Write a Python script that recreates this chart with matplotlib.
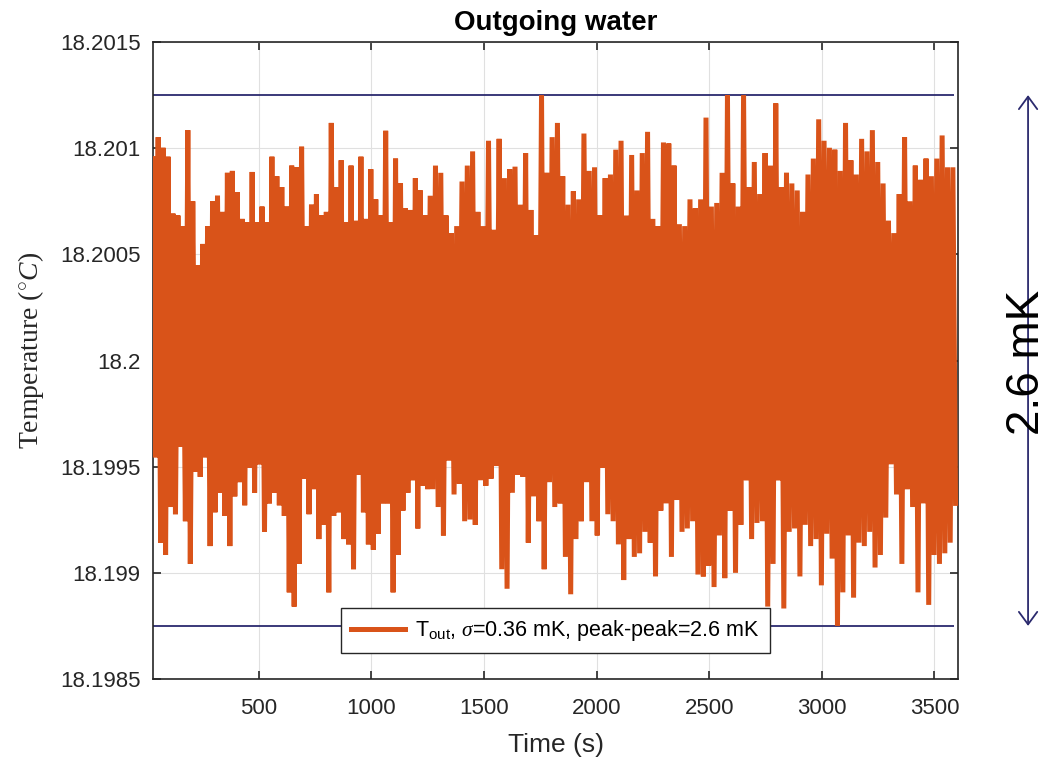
import numpy as np
import matplotlib
matplotlib.use("Agg")
import matplotlib.pyplot as plt

# ---------------- data ----------------
base_temp_C = 18.2
# Excursions in mK relative to 18.2 C, read left to right in three stretches of the record.
# stretch A: ~30 s .. ~1250 s
upper_a = [
    0.951, 1.052, 1.002, 0.960, 0.692, 0.683, 0.633, 1.085, 0.750,
    0.449, 0.549, 0.633, 0.750, 0.776, 0.700, 0.884, 0.893, 0.792, 0.667,
    0.650, 0.888, 0.650, 0.725, 0.650, 0.960, 0.868, 0.817, 0.725, 0.918,
    0.910, 1.007, 0.633, 0.734, 0.784, 0.683, 0.700, 1.119, 0.817,
    0.943, 0.650, 0.918, 0.658, 0.960, 0.667, 0.901, 0.759, 0.683, 1.082,
    0.650, 0.951, 0.834, 0.717, 0.709, 0.859, 0.801, 0.683,
]
lower_a = [
    -0.456, -0.858, -0.916, -0.690, -0.724, -0.405, -0.757, -0.958, -0.523, -0.548,
    -0.456, -0.874, -0.715, -0.623, -0.732, -0.874, -0.640, -0.573, -0.682, -0.506,
    -0.623, -0.489, -0.807, -0.673, -0.623, -0.682, -0.732, -1.092, -1.159, -0.958,
    -0.556, -0.724, -0.606, -0.841, -0.774, -1.092, -0.732, -0.715, -0.841, -0.866,
    -0.983, -0.539, -0.715, -0.866, -0.891, -0.816, -0.673, -0.673, -1.092, -0.916,
    -0.707, -0.623, -0.564, -0.791, -0.590, -0.606,
]
# stretch B: ~1260 s .. ~2450 s
upper_b = [
    0.776, 0.918, 0.884, 0.683, 0.600, 0.633, 0.843, 0.918, 0.985, 0.700,
    0.633, 1.035, 0.616, 1.044, 0.859, 0.901, 0.913, 0.734, 0.977, 0.709,
    0.591, 1.250, 0.884, 1.052, 1.119, 0.868, 0.734, 0.797, 0.759, 1.069,
    0.893, 0.910, 0.683, 0.859, 0.876, 0.993, 1.035, 0.683, 0.968, 0.801,
    0.977, 1.077, 0.667, 0.633, 1.027, 1.022, 0.918, 0.642, 0.633, 0.759,
    0.717,
]
lower_b = [
    -0.606, -0.690, -0.824, -0.472, -0.631, -0.581, -0.757, -0.749, -0.774,
    -0.564, -0.590, -0.556, -0.497, -0.983, -1.075, -0.623, -0.539, -0.548, -0.858,
    -0.640, -0.757, -0.983, -0.573, -0.690, -0.673, -0.925, -1.101, -0.841, -0.757,
    -0.573, -0.757, -0.824, -0.506, -0.724, -0.757, -0.866, -1.034, -0.841, -0.925,
    -0.908, -0.807, -0.858, -1.017, -0.707, -0.673, -0.925, -0.657, -0.807, -0.791,
    -0.757, -1.008,
]
# stretch C: ~2460 s .. ~3594 s
upper_c = [
    0.759, 1.144, 0.725, 0.742, 0.884, 1.250, 0.834, 0.725, 1.250, 0.817,
    0.935, 0.784, 0.977, 0.918, 1.211, 0.817, 0.884, 0.834, 0.801, 0.700,
    0.876, 0.951, 1.136, 1.035, 1.002, 0.993, 0.893, 1.119, 0.943, 0.876,
    1.044, 0.985, 1.085, 0.935, 0.834, 0.658, 0.600, 0.784, 1.052, 0.750,
    0.918, 0.851, 0.951, 0.868, 0.951, 1.060, 0.910, 0.910,
]
lower_c = [
    -1.017, -0.966, -1.067, -0.824, -1.025, -0.707, -1.000, -0.774, -0.564,
    -0.841, -0.765, -0.757, -1.159, -0.958, -0.564, -1.168, -0.807, -0.791, -1.017,
    -0.774, -0.874, -0.841, -1.059, -0.816, -0.933, -1.250, -1.092, -0.824, -1.117,
    -0.858, -0.874, -0.807, -0.975, -0.916, -0.740, -0.489, -0.631, -0.958, -0.606,
    -0.690, -1.092, -0.673, -1.151, -0.916, -0.958, -0.908, -0.858, -0.673,
]
stretch_times_s = [(31, 1250), (1261, 2450), (2462, 3594)]

xticks = [500, 1000, 1500, 2000, 2500, 3000, 3500]
xtick_labels = ["500", "1000", "1500", "2000", "2500", "3000", "3500"]
yticks = [18.1985, 18.199, 18.1995, 18.2, 18.2005, 18.201, 18.2015]
ytick_labels = ["18.1985", "18.199", "18.1995", "18.2", "18.2005", "18.201", "18.2015"]

title = "Outgoing water"
legend_label = r"T$_{\rm out}$, $\sigma$=0.36 mK, peak-peak=2.6 mK"
span_label = "2.6 mK"

# ---------------- build the sampled series (alternating high / low samples) ----------------
ts, vs = [], []
for (t0, t1), up, lo in zip(stretch_times_s, [upper_a, upper_b, upper_c],
                            [lower_a, lower_b, lower_c]):
    n = min(len(up), len(lo))
    seq = np.empty(2 * n)
    seq[0::2] = up[:n]
    seq[1::2] = lo[:n]
    ts.append(np.linspace(t0, t1, 2 * n))
    vs.append(seq)
time_s = np.concatenate(ts)
temp_C = base_temp_C + np.concatenate(vs) / 1000.0

# ---------------- styling ----------------
plt.rcParams["font.family"] = ["Liberation Sans", "DejaVu Sans"]
plt.rcParams["mathtext.fontset"] = "custom"
plt.rcParams["mathtext.rm"] = "Liberation Sans"
plt.rcParams["mathtext.it"] = "Liberation Serif:italic"
plt.rcParams["mathtext.bf"] = "Liberation Sans:bold"

orange = "#D95319"
navy = "#2B2A6E"
axis_col = "#262626"

fig = plt.figure(figsize=(10.5, 7.6), dpi=100)
ax = fig.add_axes([0.1457, 0.1066, 0.9124 - 0.1457, 0.9447 - 0.1066])

ax.plot(time_s, temp_C, color=orange, lw=3.6, label=legend_label, zorder=3,
        solid_joinstyle="bevel")

ymax, ymin = temp_C.max(), temp_C.min()
ax.hlines([ymax, ymin], time_s[0], 3585, colors=navy, lw=1.3, zorder=2)

ax.set_xlim(30, 3605)
ax.set_ylim(18.1985, 18.2015)
ax.set_xticks(xticks)
ax.set_xticklabels(xtick_labels)
ax.set_yticks(yticks)
ax.set_yticklabels(ytick_labels)

ax.grid(True, color="#e0e0e0", lw=0.8, zorder=0)
ax.set_axisbelow(True)
for s in ax.spines.values():
    s.set_color(axis_col)
    s.set_linewidth(1.2)
ax.tick_params(direction="in", length=6, width=1.2, colors=axis_col,
               labelsize=16, top=True, right=True)
ax.tick_params(axis="x", pad=14)
ax.tick_params(axis="y", pad=9)

ax.set_title(title, fontsize=20, fontweight="bold", pad=9)
ax.set_xlabel("Time (s)", fontsize=19, labelpad=10, color="#262626")
ax.set_ylabel(r"Temperature ($^{\circ}C$)", fontsize=20,
              family=["Liberation Serif", "DejaVu Serif"], color="#262626")
ax.yaxis.set_label_coords(-0.133, 0.516)

leg = ax.legend(loc="lower center", bbox_to_anchor=(0.5, 0.041),
                borderaxespad=0, fontsize=15.5, fancybox=False,
                edgecolor="#262626", framealpha=1, handlelength=2.5,
                borderpad=0.45, handletextpad=0.5)
leg.get_frame().set_linewidth(1.0)
leg.set_zorder(5)

ax.annotate("", xy=(1.087, ymax), xytext=(1.087, ymin),
            xycoords=("axes fraction", "data"),
            textcoords=("axes fraction", "data"),
            arrowprops=dict(arrowstyle="<->,head_length=0.45,head_width=0.33",
                            color=navy, lw=1.3, shrinkA=0, shrinkB=0,
                            mutation_scale=20),
            annotation_clip=False)
fig.text(1027 / 1050, 1 - 362 / 760, span_label, rotation=90, fontsize=33,
         ha="center", va="center", color="black")

fig.savefig("out.png", dpi=100)
